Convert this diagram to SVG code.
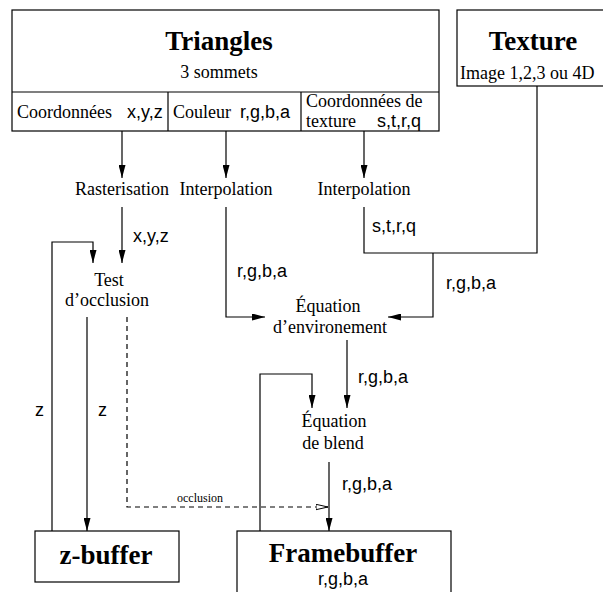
<svg xmlns="http://www.w3.org/2000/svg" width="603" height="592" viewBox="0 0 603 592">
<style>
.box{fill:#fff;stroke:#000;stroke-width:1.2}
.ln{fill:none;stroke:#000;stroke-width:1.2}
.ser{font-family:"Liberation Serif","Times New Roman",serif;font-size:18px;fill:#000}
.big{font-family:"Liberation Serif","Times New Roman",serif;font-size:27px;font-weight:bold;fill:#000}
.san{font-family:"Liberation Sans",Arial,sans-serif;font-size:18px;fill:#000}
.c{text-anchor:middle}
.dash{fill:none;stroke:#000;stroke-width:1.2;stroke-dasharray:5,4}
</style>
<defs>
<marker id="ah" markerUnits="userSpaceOnUse" markerWidth="13" markerHeight="7" viewBox="0 0 13 7" refX="13" refY="3.5" orient="auto">
<path d="M0,0 L13,3.5 L0,7 z" fill="#000"/>
</marker>
<marker id="oh" markerUnits="userSpaceOnUse" markerWidth="13" markerHeight="7" viewBox="0 0 13 7" refX="12.5" refY="3.5" orient="auto">
<path d="M0.5,0.8 L12.5,3.5 L0.5,6.2 z" fill="#fff" stroke="#000" stroke-width="1"/>
</marker>
</defs>

<g id="triangles">
<rect class="box" x="12" y="10" width="427" height="121"/>
<line class="ln" x1="12" y1="92" x2="439" y2="92"/>
<line class="ln" x1="168" y1="92" x2="168" y2="131"/>
<line class="ln" x1="301" y1="92" x2="301" y2="131"/>
<text class="big c" x="219" y="50">Triangles</text>
<text class="ser c" x="219" y="78">3 sommets</text>
<text class="ser" x="17" y="118">Coordonnées</text>
<text class="san" x="127" y="118">x,y,z</text>
<text class="ser" x="173" y="118">Couleur</text>
<text class="san" x="240" y="118">r,g,b,a</text>
<text class="ser" x="306" y="107">Coordonnées de</text>
<text class="ser" x="306" y="127">texture</text>
<text class="san" x="377" y="127">s,t,r,q</text>
</g>

<g id="texture">
<rect class="box" x="457" y="10" width="160" height="76"/>
<text class="big c" x="533" y="50">Texture</text>
<text class="ser" x="460" y="79">Image 1,2,3 ou 4D</text>
</g>

<g id="rasterisation"><text class="ser c" x="122" y="195">Rasterisation</text></g>
<g id="interpolation1"><text class="ser c" x="226" y="195">Interpolation</text></g>
<g id="interpolation2"><text class="ser c" x="364" y="195">Interpolation</text></g>

<g id="test">
<text class="ser c" x="109" y="286">Test</text>
<text class="ser c" x="107" y="306">d’occlusion</text>
</g>

<g id="env">
<text class="ser c" x="328" y="312">Équation</text>
<text class="ser c" x="330" y="333">d’environement</text>
</g>

<g id="blend">
<text class="ser c" x="334" y="427">Équation</text>
<text class="ser c" x="333" y="449">de blend</text>
</g>

<g id="zbuffer">
<rect class="box" x="35" y="531" width="144" height="51"/>
<text class="big c" x="106" y="564">z-buffer</text>
</g>

<g id="framebuffer">
<rect class="box" x="237" y="531" width="214" height="70"/>
<text class="big c" x="343" y="562">Framebuffer</text>
<text class="san c" x="343" y="585">r,g,b,a</text>
</g>

<g id="connectors">
<line class="ln" x1="122" y1="131" x2="122" y2="178" marker-end="url(#ah)"/>
<line class="ln" x1="226" y1="131" x2="226" y2="178" marker-end="url(#ah)"/>
<line class="ln" x1="364" y1="131" x2="364" y2="178" marker-end="url(#ah)"/>
<line class="ln" x1="122" y1="207" x2="122" y2="263" marker-end="url(#ah)"/>
<path class="ln" d="M52,531 V242 H93 V263" marker-end="url(#ah)"/>
<line class="ln" x1="87" y1="317" x2="87" y2="531" marker-end="url(#ah)"/>
<path class="dash" d="M127,317 V507 H328" marker-end="url(#oh)"/>
<path class="ln" d="M226,207 V317 H265" marker-end="url(#ah)"/>
<path class="ln" d="M364,207 V253 H537 V86"/>
<path class="ln" d="M433,253 V317 H388" marker-end="url(#ah)"/>
<line class="ln" x1="347" y1="340" x2="347" y2="408" marker-end="url(#ah)"/>
<path class="ln" d="M260,531 V374 H312 V408" marker-end="url(#ah)"/>
<line class="ln" x1="329" y1="462" x2="329" y2="531" marker-end="url(#ah)"/>
<text class="san" x="133" y="242">x,y,z</text>
<text class="san" x="35" y="416">z</text>
<text class="san" x="98" y="416">z</text>
<text class="ser c" x="200" y="502" style="font-size:12px">occlusion</text>
<text class="san" x="237" y="277">r,g,b,a</text>
<text class="san" x="446" y="289">r,g,b,a</text>
<text class="san" x="372" y="232">s,t,r,q</text>
<text class="san" x="358" y="383">r,g,b,a</text>
<text class="san" x="342" y="490">r,g,b,a</text>
</g>
</svg>
